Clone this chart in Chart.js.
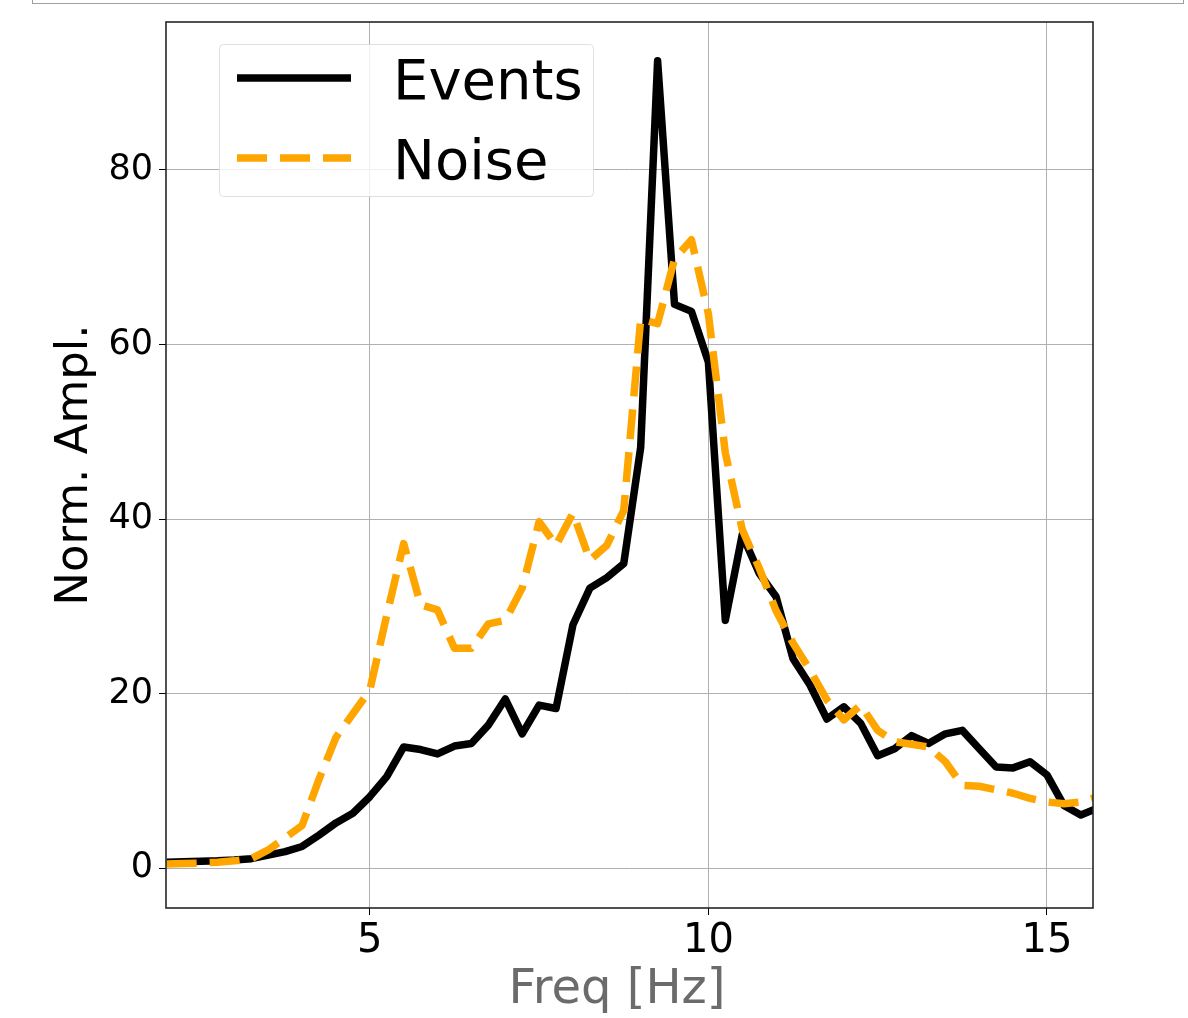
<!DOCTYPE html>
<html>
<head>
<meta charset="utf-8">
<script src="https://cdn.jsdelivr.net/npm/chart.js@4.4.1/dist/chart.umd.min.js"></script>
<style>
    html, body { margin: 0; padding: 0; background: #fff; }
    #wrap { position: relative; width: 1188px; height: 1018px; overflow: hidden; }
    #frame { position: absolute; left: 32px; top: -10px; width: 1152px; height: 14px; border: 1px solid #a0a0a0; box-sizing: border-box; }
    canvas { position: absolute; left: 0; top: 0; }
</style>
</head>
<body>
<div id="wrap">
    <div id="frame"></div>
    <canvas id="spectrum-chart" width="1188" height="1018"></canvas>
</div>
<script>
const freqs = [2, 2.25, 2.5, 2.75, 3, 3.25, 3.5, 3.75, 4, 4.25, 4.5, 4.75, 5, 5.25, 5.5, 5.75,
    6, 6.25, 6.5, 6.75, 7, 7.25, 7.5, 7.75, 8, 8.25, 8.5, 8.75, 9, 9.25, 9.5, 9.75,
    10, 10.25, 10.5, 10.75, 11, 11.25, 11.5, 11.75, 12, 12.25, 12.5, 12.75, 13, 13.25, 13.5, 13.75,
    14, 14.25, 14.5, 14.75, 15, 15.25, 15.5, 15.75];
const eventsAmpl = [0.7, 0.75, 0.8, 0.85, 0.95, 1.1, 1.5, 1.9, 2.5, 3.8, 5.2, 6.3, 8.2, 10.5, 13.9, 13.6,
    13.1, 14.0, 14.3, 16.4, 19.4, 15.4, 18.7, 18.3, 27.9, 32.1, 33.3, 34.9, 48.2, 92.5, 64.6, 63.8,
    58.0, 28.4, 38.2, 33.8, 31.1, 24.0, 21.0, 17.1, 18.5, 16.6, 12.9, 13.7, 15.2, 14.3, 15.4, 15.8,
    13.7, 11.6, 11.5, 12.2, 10.7, 7.2, 6.1, 6.9];
const noiseAmpl = [0.5, 0.55, 0.6, 0.7, 0.85, 1.1, 2.1, 3.5, 4.9, 10.2, 15.0, 17.7, 20.4, 29.0, 37.2, 30.2,
    29.6, 25.2, 25.2, 28.0, 28.4, 32.1, 39.7, 37.0, 40.7, 35.3, 37.0, 41.0, 62.9, 62.4, 69.8, 72.0,
    63.5, 47.6, 38.8, 34.4, 29.5, 25.8, 22.7, 19.3, 17.0, 18.7, 15.8, 14.5, 14.2, 13.9, 12.2, 9.5,
    9.4, 9.0, 8.6, 8.0, 7.6, 7.4, 7.6, 8.2];
const xTicks = [5, 10, 15];
const yTicks = [0, 20, 40, 60, 80];
const xLabel = 'Freq [Hz]';
const yLabel = 'Norm. Ampl.';

const FONT = '"DejaVu Sans", sans-serif';

// spines on all four sides, like matplotlib
const spines = {
    id: 'spines',
    afterDatasetsDraw(chart) {
        const { ctx, chartArea: a } = chart;
        ctx.save();
        ctx.strokeStyle = '#262626';
        ctx.lineWidth = 1.6;
        ctx.strokeRect(a.left, a.top, a.right - a.left, a.bottom - a.top);
        ctx.restore();
    }
};

// legend inside the axes (upper left) + x label
const boxLegend = {
    id: 'boxLegend',
    afterDraw(chart) {
        const ctx = chart.ctx;
        ctx.save();
        ctx.globalAlpha = 0.8;
        ctx.fillStyle = '#fff';
        ctx.strokeStyle = '#d8d8d8';
        ctx.lineWidth = 1;
        ctx.beginPath();
        ctx.roundRect(219.5, 44.5, 374, 152, 4);
        ctx.fill();
        ctx.stroke();
        ctx.globalAlpha = 1;

        chart.data.datasets.forEach((ds, i) => {
            const y = 78 + i * 80;
            ctx.strokeStyle = ds.borderColor;
            ctx.lineWidth = ds.borderWidth;
            ctx.setLineDash(ds.borderDash || []);
            ctx.lineCap = 'butt';
            ctx.beginPath();
            ctx.moveTo(237, y);
            ctx.lineTo(351, y);
            ctx.stroke();
            ctx.setLineDash([]);
            ctx.fillStyle = '#000';
            ctx.font = '56px ' + FONT;
            ctx.textBaseline = 'alphabetic';
            ctx.textAlign = 'left';
            ctx.fillText(ds.label, 393, y + 21);
        });

        ctx.fillStyle = '#6b6b6b';
        ctx.font = '48px ' + FONT;
        ctx.textAlign = 'center';
        ctx.textBaseline = 'alphabetic';
        ctx.fillText(xLabel, 617, 1003);
        ctx.restore();
    }
};

function renderSpectrumChart() {
    const ctx = document.getElementById('spectrum-chart');

    new Chart(ctx, {
        type: 'line',
        data: {
            datasets: [{
                label: 'Events',
                data: freqs.map((f, i) => ({ x: f, y: eventsAmpl[i] })),
                borderColor: '#000000',
                borderWidth: 7.5,
                borderJoinStyle: 'round',
                pointRadius: 0,
                tension: 0,
                clip: 0,
                order: 1
            }, {
                label: 'Noise',
                data: freqs.map((f, i) => ({ x: f, y: noiseAmpl[i] })),
                borderColor: '#FFA500',
                borderWidth: 7.5,
                borderDash: [30, 13],
                borderJoinStyle: 'round',
                pointRadius: 0,
                tension: 0,
                clip: 0,
                order: 0
            }]
        },
        options: {
            responsive: false,
            animation: false,
            devicePixelRatio: 1,
            layout: { padding: { top: 22, right: 95, bottom: 0, left: 0 } },
            plugins: {
                legend: { display: false },
                tooltip: { enabled: false }
            },
            scales: {
                x: {
                    type: 'linear',
                    min: 1.99,
                    max: 15.68,
                    afterBuildTicks: s => { s.ticks = xTicks.map(v => ({ value: v })); },
                    afterFit: s => { s.height = 110; s.paddingLeft = 0; s.paddingRight = 0; },
                    border: { display: false },
                    grid: { color: '#b0b0b0', lineWidth: 1, tickColor: '#000', tickLength: 7 },
                    ticks: {
                        color: '#000',
                        font: { family: FONT, size: 40, lineHeight: 1.2 },
                        padding: 3,
                        maxRotation: 0,
                        autoSkip: false
                    }
                },
                y: {
                    type: 'linear',
                    min: -4.55,
                    max: 96.95,
                    afterBuildTicks: s => { s.ticks = yTicks.map(v => ({ value: v })); },
                    afterFit: s => { s.width = 166; s.paddingTop = 0; s.paddingBottom = 0; },
                    border: { display: false },
                    grid: { color: '#b0b0b0', lineWidth: 1, tickColor: '#000', tickLength: 7 },
                    ticks: {
                        color: '#000',
                        font: { family: FONT, size: 35 },
                        padding: 6,
                        autoSkip: false
                    },
                    title: {
                        display: true,
                        text: yLabel,
                        color: '#000',
                        font: { family: FONT, size: 45, lineHeight: 1 },
                        padding: { top: 53, bottom: 0 }
                    }
                }
            }
        },
        plugins: [spines, boxLegend]
    });
}

renderSpectrumChart();
</script>
</body>
</html>
